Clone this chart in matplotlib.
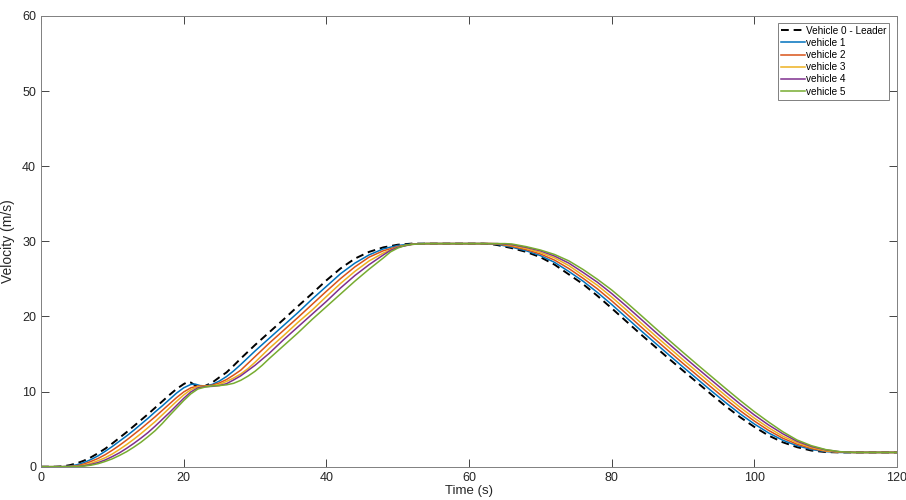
import matplotlib
matplotlib.use('Agg')
import matplotlib.pyplot as plt

plt.rcParams['font.family'] = ['Liberation Sans', 'DejaVu Sans']

# (time [s], velocity [m/s])
lead = [(0, 0), (2, 0), (3, 0.05), (4, 0.2), (5, 0.45), (6, 0.8), (7, 1.25), (8, 1.8), (9, 2.4), (10, 3.1),
        (11, 3.85), (12, 4.6), (13, 5.4), (14, 6.2), (15, 7.0), (16, 7.85), (17, 8.7), (18, 9.55), (19, 10.35),
        (20, 11.0), (20.6, 11.3), (21, 11.2), (21.5, 10.9), (22.2, 10.65), (23, 10.75), (24, 11.2), (25, 11.9),
        (26, 12.55), (27, 13.45), (28, 14.4), (30, 16.2), (32, 17.9), (34, 19.6), (36, 21.35), (38, 23.05),
        (40, 24.8), (42, 26.4), (44, 27.7), (46, 28.6), (48, 29.2), (50, 29.55), (52, 29.7), (62, 29.7),
        (63, 29.65), (64, 29.5), (65, 29.3), (66, 29.1), (67, 28.85), (68, 28.6), (69, 28.25), (70, 27.9),
        (72, 26.9), (74, 25.6), (76, 24.3), (78, 22.75), (80, 21.1), (82, 19.4), (84, 17.7), (86, 16.05),
        (88, 14.4), (90, 12.8), (92, 11.2), (94, 9.6), (96, 8.05), (98, 6.6), (100, 5.3), (102, 4.15),
        (104, 3.25), (106, 2.6), (108, 2.15), (110, 1.95), (112, 1.9), (120, 1.9)]

veh1 = [(0, 0), (3, 0), (4, 0.08), (5, 0.25), (6, 0.55), (7, 0.95), (8, 1.45), (9, 2.05), (10, 2.7), (11, 3.4),
        (12, 4.1), (13, 4.85), (14, 5.65), (15, 6.45), (16, 7.3), (17, 8.1), (18, 8.95), (19, 9.8), (20, 10.5),
        (21, 10.95), (21.6, 11.0), (22.3, 10.8), (23, 10.75), (24, 10.95), (25, 11.4), (26, 12.0), (27, 12.75),
        (28, 13.6), (30, 15.4), (32, 17.1), (34, 18.8), (36, 20.5), (38, 22.3), (40, 24.0), (42, 25.7),
        (44, 27.1), (46, 28.2), (48, 29.0), (50, 29.45), (52, 29.65), (54, 29.7), (62, 29.7), (64, 29.59),
        (66, 29.22), (68, 28.75), (70, 28.11), (72, 27.2), (74, 25.99), (76, 24.69), (78, 23.2), (80, 21.6),
        (82, 19.91), (84, 18.21), (86, 16.55), (88, 14.9), (90, 13.28), (92, 11.68), (94, 10.08), (96, 8.52),
        (98, 7.04), (100, 5.69), (102, 4.5), (104, 3.52), (106, 2.8), (108, 2.29), (110, 2.01), (112, 1.9),
        (120, 1.9)]

veh2 = [(0, 0), (3, 0), (4, 0.03), (5, 0.12), (6, 0.35), (7, 0.7), (8, 1.1), (9, 1.6), (10, 2.2), (11, 2.85),
        (12, 3.55), (13, 4.3), (14, 5.05), (15, 5.85), (16, 6.65), (17, 7.5), (18, 8.35), (19, 9.2), (20, 9.95),
        (21, 10.5), (22, 10.75), (23, 10.75), (24, 10.85), (25, 11.15), (26, 11.6), (27, 12.2), (28, 12.85),
        (29, 13.75), (30, 14.65), (32, 16.45), (34, 18.15), (36, 19.85), (38, 21.6), (40, 23.35), (42, 25.05),
        (44, 26.6), (46, 27.9), (48, 28.75), (50, 29.3), (52, 29.6), (54, 29.7), (63, 29.7), (64, 29.66),
        (66, 29.34), (68, 28.9), (70, 28.32), (72, 27.5), (74, 26.38), (76, 25.08), (78, 23.68), (80, 22.09),
        (82, 20.42), (84, 18.72), (86, 17.04), (88, 15.39), (90, 13.76), (92, 12.16), (94, 10.56), (96, 8.98),
        (98, 7.47), (100, 6.08), (102, 4.84), (104, 3.79), (106, 2.99), (108, 2.42), (110, 2.07), (112, 1.93),
        (114, 1.9), (120, 1.9)]

veh3 = [(0, 0), (3, 0), (4, 0.01), (5, 0.06), (6, 0.2), (7, 0.45), (8, 0.8), (9, 1.2), (10, 1.7), (11, 2.3),
        (12, 2.95), (13, 3.65), (14, 4.4), (15, 5.2), (16, 6.0), (17, 6.9), (18, 7.8), (19, 8.7), (20, 9.55),
        (21, 10.25), (22, 10.65), (23, 10.7), (24, 10.75), (25, 10.95), (26, 11.35), (27, 11.8), (28, 12.35),
        (29, 13.05), (30, 13.9), (32, 15.75), (34, 17.45), (36, 19.2), (38, 20.85), (40, 22.65), (42, 24.4),
        (44, 26.0), (46, 27.4), (48, 28.45), (50, 29.25), (52, 29.62), (54, 29.7), (63, 29.7), (64, 29.69),
        (66, 29.46), (68, 29.05), (70, 28.53), (72, 27.8), (74, 26.77), (76, 25.47), (78, 24.15), (80, 22.59),
        (82, 20.93), (84, 19.23), (86, 17.54), (88, 15.89), (90, 14.24), (92, 12.64), (94, 11.04), (96, 9.45),
        (98, 7.91), (100, 6.47), (102, 5.19), (104, 4.06), (106, 3.19), (108, 2.56), (110, 2.13), (112, 1.95),
        (114, 1.9), (120, 1.9)]

veh4 = [(0, 0), (4, 0), (5, 0.03), (6, 0.12), (7, 0.3), (8, 0.55), (9, 0.9), (10, 1.35), (11, 1.85), (12, 2.45),
        (13, 3.1), (14, 3.8), (15, 4.55), (16, 5.4), (17, 6.3), (18, 7.2), (19, 8.15), (20, 9.1), (21, 9.95),
        (22, 10.5), (23, 10.65), (24, 10.7), (25, 10.8), (26, 11.05), (27, 11.55), (28, 12.1), (29, 12.8),
        (30, 13.5), (31, 14.3), (32, 15.1), (34, 16.9), (36, 18.6), (38, 20.3), (40, 22.0), (42, 23.8),
        (44, 25.45), (46, 26.9), (48, 28.2), (49, 28.8), (50, 29.2), (52, 29.6), (54, 29.7), (64, 29.7),
        (66, 29.56), (68, 29.2), (70, 28.74), (72, 28.04), (74, 27.1), (76, 25.86), (78, 24.56), (80, 23.06),
        (82, 21.43), (84, 19.74), (86, 18.04), (88, 16.38), (90, 14.73), (92, 13.12), (94, 11.52), (96, 9.92),
        (98, 8.36), (100, 6.89), (102, 5.56), (104, 4.38), (106, 3.38), (108, 2.69), (110, 2.24), (112, 1.99),
        (114, 1.9), (120, 1.9)]

veh5 = [(0, 0), (4, 0), (5, 0.02), (6, 0.08), (7, 0.2), (8, 0.4), (9, 0.7), (10, 1.05), (11, 1.5), (12, 2.0),
        (13, 2.6), (14, 3.25), (15, 4.0), (16, 4.8), (17, 5.75), (18, 6.8), (19, 7.8), (20, 8.8), (21, 9.7),
        (22, 10.35), (23, 10.6), (24, 10.75), (25, 10.8), (26, 10.9), (27, 11.1), (28, 11.5), (29, 12.05),
        (30, 12.7), (31, 13.5), (32, 14.4), (34, 16.1), (36, 17.8), (38, 19.6), (40, 21.3), (42, 23.0),
        (44, 24.7), (46, 26.3), (48, 27.8), (49, 28.6), (50, 29.1), (51, 29.45), (52, 29.6), (54, 29.7),
        (65, 29.7), (66, 29.65), (68, 29.3), (70, 28.85), (72, 28.25), (74, 27.4), (76, 26.25), (78, 24.95),
        (80, 23.53), (82, 21.93), (84, 20.25), (86, 18.55), (88, 16.88), (90, 15.23), (92, 13.6), (94, 12.0),
        (96, 10.4), (98, 8.83), (100, 7.33), (102, 5.95), (104, 4.65), (106, 3.55), (108, 2.8), (110, 2.28),
        (112, 2.0), (114, 1.9), (120, 1.9)]

followers = [veh1, veh2, veh3, veh4, veh5]
names = ['vehicle 1', 'vehicle 2', 'vehicle 3', 'vehicle 4', 'vehicle 5']
colors = ['#0072BD', '#D95319', '#EDB120', '#7E2F8E', '#77AC30']

fig = plt.figure(figsize=(9.06, 5.0), dpi=100)
ax = fig.add_axes([0.0453, 0.0666, 0.9447, 0.9014])

t, v = zip(*lead)
ax.plot(t, v, color='black', linestyle='--', dashes=(4, 2.5), linewidth=1.4, label='Vehicle 0 - Leader')
for data, name, c in zip(followers, names, colors):
    t, v = zip(*data)
    ax.plot(t, v, color=c, linewidth=1.1, label=name)

ax.set_xlim(0, 120)
ax.set_ylim(0, 60)
ax.set_xticks(range(0, 121, 20))
ax.set_yticks(range(0, 61, 10))
ax.tick_params(direction='in', length=5.5, width=0.6, colors='#262626', labelsize=9,
               top=True, right=True)
for s in ax.spines.values():
    s.set_color('#808080')
    s.set_linewidth(0.7)
ax.set_xlabel('Time (s)', fontsize=9.5, color='#262626', labelpad=1)
ax.set_ylabel('Velocity (m/s)', fontsize=10, color='#262626', labelpad=5)

leg = ax.legend(loc='upper right', bbox_to_anchor=(0.9812, 0.9546), bbox_transform=fig.transFigure,
                fontsize=7.2, handlelength=2.4, handletextpad=0.1, labelspacing=0.22,
                borderpad=0.3, borderaxespad=0, fancybox=False, framealpha=1)
leg.get_frame().set_edgecolor('#808080')
leg.get_frame().set_linewidth(0.7)

fig.savefig('out.png', dpi=100)
